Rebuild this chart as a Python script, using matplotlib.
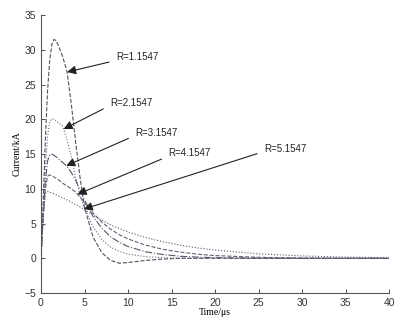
import matplotlib
matplotlib.use('Agg')
import matplotlib.pyplot as plt
import numpy as np

# time in microseconds
t = [0, 0.25, 0.5, 0.75, 1, 1.25, 1.5, 1.75, 2, 2.5, 3, 3.5, 4, 4.5, 5, 6, 7, 8, 9, 10,
     12, 14, 16, 18, 20, 25, 30, 35, 40]

# current in kA
i_r1 = [0, 8, 17, 24, 28.5, 30.8, 31.5, 31.3, 30.6, 29.0, 26.8, 22, 16.5, 11.5, 7.3, 3.0,
        0.8, -0.3, -0.7, -0.6, -0.3, -0.1, 0, 0, 0, 0, 0, 0, 0]
i_r2 = [0, 7, 13, 17.5, 19.6, 20.1, 20.0, 19.8, 19.5, 19.0, 17.0, 14.5, 11.5, 9.0, 7.2,
        4.5, 2.7, 1.6, 1.0, 0.6, 0.25, 0.1, 0.05, 0, 0, 0, 0, 0, 0]
i_r3 = [0, 6, 11, 14, 14.9, 15.0, 14.8, 14.6, 14.3, 13.8, 13.2, 12.3, 11.2, 9.8, 8.4,
        6.0, 4.3, 3.1, 2.3, 1.7, 0.95, 0.55, 0.3, 0.18, 0.1, 0.03, 0, 0, 0]
i_r4 = [0, 6, 10, 11.8, 12, 11.9, 11.7, 11.5, 11.3, 10.8, 10.4, 10.0, 9.5, 8.8, 8.0,
        6.5, 5.2, 4.2, 3.4, 2.8, 1.9, 1.3, 0.9, 0.6, 0.4, 0.15, 0.05, 0.02, 0]
i_r5 = [0, 6, 9.3, 9.6, 9.5, 9.4, 9.3, 9.15, 9.0, 8.7, 8.4, 8.1, 7.7, 7.4, 7.0,
        6.2, 5.5, 4.8, 4.3, 3.8, 3.0, 2.4, 1.9, 1.5, 1.2, 0.65, 0.35, 0.18, 0.1]

labels = ['R=1.1547', 'R=2.1547', 'R=3.1547', 'R=4.1547', 'R=5.1547']
series = [i_r1, i_r2, i_r3, i_r4, i_r5]

# where each arrow touches its curve (time) and where its label starts
tip_t = [3.0, 2.6, 2.9, 4.2, 4.9]
text_xy = [(8.6, 28.9), (7.9, 22.4), (10.8, 18.1), (14.6, 15.1), (25.6, 15.8)]

styles = ['--', ':', '-.', '--', ':']
colors = ['#505060', '#6a6a80', '#555566', '#606075', '#58586e']

fig = plt.figure(figsize=(3.98, 3.2), dpi=100)
ax = fig.add_axes([0.103, 0.084, 0.875, 0.869])

for y, ls, c in zip(series, styles, colors):
    ax.plot(t, y, linestyle=ls, color=c, lw=0.8)

for lab, y, tt, (tx, ty) in zip(labels, series, tip_t, text_xy):
    ax.annotate(lab, xy=(tt, np.interp(tt, t, y)), xytext=(tx, ty),
                ha='left', va='center', fontsize=7, family='Liberation Sans',
                color='#222222',
                arrowprops=dict(arrowstyle='-|>', color='#222222', lw=0.8,
                                mutation_scale=13, relpos=(0, 0.2), shrinkA=3,
                                shrinkB=0))

ax.set_xlim(0, 40)
ax.set_ylim(-5, 35)
ax.set_xticks(range(0, 41, 5))
ax.set_yticks(range(-5, 36, 5))
ax.spines['top'].set_visible(False)
ax.spines['right'].set_visible(False)
ax.spines['left'].set_color('#555555')
ax.spines['bottom'].set_color('#555555')
ax.tick_params(direction='in', length=3, width=0.6, labelsize=7.5, colors='#333333')
for lab in ax.get_xticklabels() + ax.get_yticklabels():
    lab.set_family('Liberation Sans')

ax.set_xlabel('Time/\u03bcs', fontsize=7, family='Liberation Serif', labelpad=0)
ax.set_ylabel('Current/kA', fontsize=7, family='Liberation Serif', labelpad=2)

fig.savefig('out.png', dpi=100)
